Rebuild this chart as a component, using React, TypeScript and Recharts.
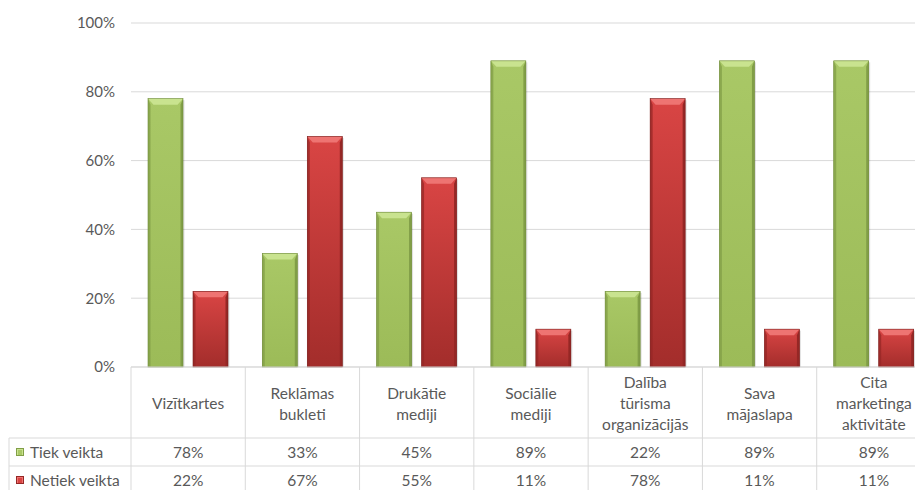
import React from "react";
import { Bar, BarChart, CartesianGrid, XAxis, YAxis } from "recharts";

const categories = [
  "Vizītkartes",
  "Reklāmas\nbukleti",
  "Drukātie\nmediji",
  "Sociālie\nmediji",
  "Dalība\ntūrisma\norganizācijās",
  "Sava\nmājaslapa",
  "Cita\nmarketinga\naktivitāte",
];
const tiekVeikta = [78, 33, 45, 89, 22, 89, 89];
const netiekVeikta = [22, 67, 55, 11, 78, 11, 11];
const seriesNames = ["Tiek veikta", "Netiek veikta"];
const yTicks = [0, 20, 40, 60, 80, 100];

const data = categories.map((name, i) => ({
  name,
  tiek: tiekVeikta[i],
  netiek: netiekVeikta[i],
}));

// the original chart is wider than the picture; its right edge is cropped
const W = 931;
const H = 490;
const LEFT = 131;
const AXIS_Y = 367;
const BAND = (W - LEFT) / categories.length;
const LINE = "#d9d9d9";
const TEXT = "#595959";
const FONT = "Lato, 'Open Sans', sans-serif";

const palette: Record<string, { top: string; bottom: string; bevel: string; side: string; edge: string }> = {
  green: { top: "#a9c866", bottom: "#9cbb58", bevel: "#c9e38f", side: "#819e47", edge: "#6f8a3a" },
  red: { top: "#d94544", bottom: "#a32d2b", bevel: "#ee7472", side: "#952725", edge: "#7a1f1d" },
};

function BevelBar(props: any) {
  const { x, y, width, height, kind } = props;
  if (!height || height <= 0) return null;
  const c = palette[kind];
  const b = Math.min(6, height / 2);
  const s = 2.5;
  return (
    <g>
      <rect x={x + 1.5} y={y + 1.5} width={width} height={height - 1.5} fill="#000" opacity={0.12} />
      <rect x={x} y={y} width={width} height={height} fill={`url(#grad-${kind})`} />
      <polygon
        points={`${x},${y} ${x + width},${y} ${x + width - s - 3},${y + b} ${x + s + 3},${y + b}`}
        fill={c.bevel}
      />
      <polygon
        points={`${x},${y} ${x + s},${y + b} ${x + s},${y + height} ${x},${y + height}`}
        fill={c.side}
        opacity={0.75}
      />
      <polygon
        points={`${x + width},${y} ${x + width - s},${y + b} ${x + width - s},${y + height} ${x + width},${y + height}`}
        fill={c.side}
      />
      <rect x={x} y={y} width={width} height={height} fill="none" stroke={c.edge} strokeWidth={0.6} />
    </g>
  );
}

function LegendSquare({ x, y, kind }: { x: number; y: number; kind: string }) {
  const c = palette[kind];
  return (
    <g>
      <rect x={x} y={y} width={8} height={8} fill={c.side} />
      <rect x={x + 1} y={y + 1} width={6} height={6} fill={c.bevel} />
      <rect x={x + 2} y={y + 2} width={4} height={5} fill={c.top} />
    </g>
  );
}

function TableTick(props: any) {
  const { x, payload } = props;
  const i = payload.index;
  const lines = String(payload.value).split("\n");
  const lh = 21;
  const cy = 403;
  const startY = cy - ((lines.length - 1) * lh) / 2;
  const left = x - BAND / 2;
  return (
    <g fontFamily={FONT} fontSize={15.5} fill={TEXT}>
      <line x1={left} y1={AXIS_Y} x2={left} y2={H} stroke={LINE} />
      {i === 0 && (
        <g>
          <line x1={9} y1={438} x2={W} y2={438} stroke={LINE} />
          <line x1={9} y1={466} x2={W} y2={466} stroke={LINE} />
          <line x1={9} y1={438} x2={9} y2={H} stroke={LINE} />
          <LegendSquare x={16} y={448} kind="green" />
          <LegendSquare x={16} y={476} kind="red" />
          <text x={30} y={452} dominantBaseline="central" fill={TEXT}>{seriesNames[0]}</text>
          <text x={30} y={480} dominantBaseline="central" fill={TEXT}>{seriesNames[1]}</text>
        </g>
      )}
      {lines.map((t, k) => (
        <text key={k} x={x} y={startY + k * lh} textAnchor="middle" dominantBaseline="central" fill={TEXT}>
          {t}
        </text>
      ))}
      <text x={x} y={452} textAnchor="middle" dominantBaseline="central" fill={TEXT}>
        {tiekVeikta[i]}%
      </text>
      <text x={x} y={480} textAnchor="middle" dominantBaseline="central" fill={TEXT}>
        {netiekVeikta[i]}%
      </text>
    </g>
  );
}

export default function App() {
  return (
    <div style={{ position: "absolute", left: 0, top: 0, width: 915, height: H, overflow: "hidden", background: "#fff" }}>
      <BarChart
        width={W}
        height={H}
        data={data}
        margin={{ top: 23, right: 0, left: 0, bottom: 0 }}
        barGap={10}
        barSize={35}
      >
        <defs>
          <linearGradient id="grad-green" x1="0" y1="0" x2="0" y2="1">
            <stop offset="0%" stopColor={palette.green.top} />
            <stop offset="100%" stopColor={palette.green.bottom} />
          </linearGradient>
          <linearGradient id="grad-red" x1="0" y1="0" x2="0" y2="1">
            <stop offset="0%" stopColor={palette.red.top} />
            <stop offset="100%" stopColor={palette.red.bottom} />
          </linearGradient>
        </defs>
        <CartesianGrid vertical={false} stroke={LINE} />
        <XAxis
          dataKey="name"
          height={H - AXIS_Y}
          interval={0}
          tickLine={false}
          tickSize={0}
          tickMargin={0}
          axisLine={{ stroke: LINE }}
          tick={<TableTick />}
        />
        <YAxis
          width={LEFT}
          domain={[0, 100]}
          ticks={yTicks}
          tickFormatter={(v: number) => `${v}%`}
          axisLine={false}
          tickLine={false}
          tickSize={0}
          tickMargin={16}
          tick={{ fill: TEXT, fontSize: 15, fontFamily: FONT }}
        />
        <Bar dataKey="tiek" name={seriesNames[0]} isAnimationActive={false} shape={(p: any) => <BevelBar {...p} kind="green" />} />
        <Bar dataKey="netiek" name={seriesNames[1]} isAnimationActive={false} shape={(p: any) => <BevelBar {...p} kind="red" />} />
      </BarChart>
    </div>
  );
}
